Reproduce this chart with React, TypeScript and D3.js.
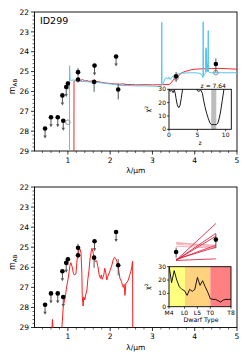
import React from 'react';
import * as d3 from 'd3';

const W = 249, H = 362;
const FONT = '"DejaVu Sans", sans-serif';

// ---------- data ----------
const xTicks = [1, 2, 3, 4, 5];
const yTicks = [22, 23, 24, 25, 26, 27, 28, 29];

// photometry (shared)
const photX = [0.46, 0.60, 0.76, 0.89, 0.87, 0.96, 1.00, 1.24, 1.24, 1.63, 1.62, 2.14, 2.19, 3.56, 4.50];
const photMag = [27.87, 27.3, 27.3, 27.48, 26.2, 25.78, 25.6, 25.03, 25.4, 24.7, 25.52, 24.24, 25.9, 25.24, 24.62];
const photUL = [1, 1, 1, 1, 1, 1, 0, 0, 0, 1, 0, 1, 0, 0, 0];
const photErrLo = [0, 0, 0, 0, 0, 0, 0.12, 0.2, 0.15, 0, 0.1, 0, 0.3, 0.22, 0.28];
const photErrHi = [0, 0, 0, 0, 0, 0, 0.3, 0.2, 0.15, 0, 0.5, 0, 0.5, 0.28, 0.42];

// model photometry (open grey circles, top panel)
const modelX = [1.0, 3.56, 4.5];
const modelMag = [27.55, 25.32, 25.05];

// galaxy template (blue) z = 7.64
const blueX = [0.21, 1.035, 1.04, 1.05, 1.08, 1.12, 1.2, 1.3, 1.4, 1.5, 1.6, 1.7, 1.8, 1.9, 2.0, 2.1, 2.2, 2.3, 2.4, 2.6, 2.8, 3.0, 3.1, 3.2, 3.215, 3.22, 3.225, 3.24, 3.27, 3.3, 3.33, 3.36, 3.39, 3.42, 3.45, 3.5, 3.6, 3.7, 3.8, 3.9, 4.0, 4.1, 4.15, 4.18, 4.195, 4.2, 4.205, 4.22, 4.25, 4.26, 4.265, 4.27, 4.275, 4.29, 4.3, 4.31, 4.32, 4.325, 4.33, 4.35, 4.4, 4.6, 4.8, 5.0];
const blueMag = [33, 33, 24.7, 25.4, 25.45, 25.42, 25.45, 25.5, 25.5, 25.52, 25.55, 25.55, 25.57, 25.6, 25.62, 25.65, 25.68, 25.7, 25.7, 25.72, 25.72, 25.73, 25.75, 25.75, 25.6, 22.52, 25.6, 25.65, 25.5, 25.35, 25.3, 25.38, 25.28, 25.4, 25.3, 25.2, 25.12, 25.08, 25.07, 25.06, 25.06, 25.08, 25.12, 25.22, 25.3, 22.49, 25.25, 25.15, 25.1, 25.05, 23.8, 25.0, 23.9, 25.0, 24.6, 25.0, 22.94, 25.0, 25.02, 25.05, 25.06, 25.06, 25.06, 25.06];

// second template (red, top panel)
const redX = [0.21, 1.14, 1.145, 1.16, 1.2, 1.25, 1.3, 1.35, 1.4, 1.45, 1.5, 1.55, 1.6, 1.7, 1.8, 1.9, 2.0, 2.1, 2.2, 2.3, 2.4, 2.5, 2.6, 2.8, 3.0, 3.2, 3.4, 3.45, 3.5, 3.55, 3.6, 3.7, 3.8, 3.9, 4.0, 4.2, 4.4, 4.6, 4.8, 5.0];
const redMag = [33, 33, 25.48, 25.45, 25.47, 25.42, 25.45, 25.4, 25.48, 25.45, 25.5, 25.47, 25.52, 25.5, 25.55, 25.58, 25.6, 25.62, 25.64, 25.62, 25.66, 25.65, 25.67, 25.66, 25.67, 25.66, 25.65, 25.55, 25.4, 25.35, 25.25, 25.05, 24.98, 24.92, 24.88, 24.86, 24.85, 24.84, 24.86, 24.88];

// brown dwarf template (bottom panel)
const bdX = [0.60, 0.62, 0.635, 0.65, 0.70, 0.80, 0.84, 0.87, 0.89, 0.92, 0.95, 0.97, 1.00, 1.03, 1.05, 1.07, 1.10, 1.13, 1.15, 1.19, 1.21, 1.23, 1.26, 1.29, 1.31, 1.33, 1.34, 1.36, 1.375, 1.40, 1.42, 1.45, 1.47, 1.50, 1.52, 1.55, 1.57, 1.60, 1.62, 1.65, 1.68, 1.71, 1.74, 1.77, 1.79, 1.81, 1.85, 1.87, 1.90, 1.92, 1.94, 1.97, 2.00, 2.04, 2.07, 2.10, 2.13, 2.16, 2.19, 2.23, 2.27, 2.29, 2.31, 2.33, 2.35, 2.37, 2.40, 2.43, 2.46, 2.49, 2.51, 2.53, 2.535];
const bdMag = [30, 29.2, 28.6, 29.3, 30, 30, 29.5, 28.63, 27.96, 27.63, 27.3, 26.97, 26.63, 26.22, 25.89, 25.77, 25.97, 26.3, 26.38, 26.33, 25.8, 25.39, 25.14, 25.1, 25.3, 26.3, 27.47, 27.93, 27.47, 27.63, 27.38, 27.13, 26.63, 26.14, 25.64, 25.22, 25.05, 25.3, 25.55, 25.72, 25.67, 25.97, 26.38, 26.55, 26.38, 26.6, 26.38, 26.05, 26.3, 26.63, 26.47, 26.33, 26.14, 25.89, 25.64, 25.5, 25.55, 25.72, 25.97, 26.55, 26.72, 26.9, 27.0, 26.85, 27.4, 26.8, 26.75, 26.63, 26.4, 26.2, 26.0, 25.7, 30];

// dwarf model colours (segments 3.56 -> 4.5 μm)
const dwarfLeft = [24.76, 24.85, 24.95, 24.8, 25.65, 25.65, 25.65, 25.62, 25.6, 25.66];
const dwarfRight = [24.95, 25.0, 25.05, 24.9, 23.82, 24.31, 24.45, 24.9, 25.0, 25.58];
const dwarfPale = [1, 1, 1, 1, 0, 0, 0, 0, 0, 0];

// photo-z chi2 curve
const zGrid = [0, 0.2, 0.45, 0.7, 0.95, 1.1, 1.25, 1.45, 1.65, 1.8, 1.95, 2.15, 2.4, 2.6, 4.8, 5.0, 5.3, 5.6, 5.9, 6.1, 6.35, 6.65, 6.95, 7.25, 7.5, 7.8, 8.1, 8.4, 8.6, 8.8, 9.1, 9.4, 9.7, 9.9, 11];
const zChi2 = [30, 28.5, 29.5, 27.5, 29.5, 27, 23, 18.5, 16.5, 16.5, 18, 23, 30, 34, 34, 29, 28.5, 29.5, 27, 22, 17, 12, 8, 4.5, 3.5, 3.5, 3.5, 3.7, 4.5, 7, 13, 21.5, 30, 34, 34];
const zBest = 7.64;
const zBand = [7.45, 8.35];
const zTicks = [0, 5, 10];
const chiTicks = [0, 10, 20, 30];

// dwarf type chi2
const dwarfTypes = ['M4', 'M5', 'M6', 'M7', 'M8', 'M9', 'L0', 'L1', 'L2', 'L3', 'L4', 'L5', 'L6', 'L7', 'L8', 'L9', 'T0', 'T1', 'T2', 'T3', 'T4', 'T5', 'T6', 'T7', 'T8'];
const dwarfChi2 = [31, 18, 27, 20, 15, 13, 12, 8.5, 13, 11.5, 13, 22, 16, 19.5, 15, 11, 6, 5.5, 5.5, 4.5, 3.5, 5, 5.5, 5.5, 5.5];
const dwarfTickLabels = ['M4', 'L0', 'L5', 'T0', 'T8'];
const dwarfSpans = [[0, 6.2, '#ffff80'], [6.2, 16, '#ffd280'], [16, 24, '#ff8080']] as [number, number, string][];

// ---------- scales ----------
const X0 = 34.5, X1 = 237;
const xs = d3.scaleLinear().domain([0.21, 5]).range([X0, X1]);
const yTop = d3.scaleLinear().domain([22, 29]).range([12, 151]);
const yBot = d3.scaleLinear().domain([22, 29]).range([187, 327.5]);

const zx = d3.scaleLinear().domain([0, 11]).range([169, 231.3]);
const zy = d3.scaleLinear().domain([0, 30]).range([129.3, 89.3]);
const dx = d3.scaleLinear().domain([0, 24]).range([169, 231]);
const dy = d3.scaleLinear().domain([0, 30]).range([306.7, 266.7]);

const BLUE = '#55c3f0';
const RED = '#f02828';

function MainAxes({ y, id }: { y: d3.ScaleLinear<number, number>; id: string }) {
  const [yb, yt] = y.range();
  const minorX = d3.range(0.4, 5.001, 0.2).filter(v => Math.abs(v - Math.round(v)) > 0.01);
  const minorY = d3.range(22, 29.001, 0.2).filter(v => Math.abs(v - Math.round(v)) > 0.01);
  const yMid = (yb + yt) / 2;
  return (
    <g>
      <rect x={X0} y={yb} width={X1 - X0} height={yt - yb} fill="none" stroke="#000" strokeWidth={0.9} />
      {xTicks.map(t => (
        <g key={'xt' + t}>
          <line x1={xs(t)} x2={xs(t)} y1={yt} y2={yt + 3.5} stroke="#000" strokeWidth={0.8} />
          <text x={xs(t)} y={yt + 11.5} fontSize={7.5} textAnchor="middle" fontFamily={FONT}>{t}</text>
        </g>
      ))}
      {minorX.map(t => (
        <line key={'xm' + t} x1={xs(t)} x2={xs(t)} y1={yt} y2={yt + 2} stroke="#000" strokeWidth={0.6} />
      ))}
      {yTicks.map(t => (
        <g key={'yt' + t}>
          <line x1={X0} x2={X0 - 3.5} y1={y(t)} y2={y(t)} stroke="#000" strokeWidth={0.8} />
          <text x={X0 - 5.5} y={y(t) + 2.7} fontSize={7.5} textAnchor="end" fontFamily={FONT}>{t}</text>
        </g>
      ))}
      {minorY.map(t => (
        <line key={'ym' + t} x1={X0} x2={X0 - 2} y1={y(t)} y2={y(t)} stroke="#000" strokeWidth={0.6} />
      ))}
      <text x={(X0 + X1) / 2} y={yt + 22} fontSize={7.5} textAnchor="middle" fontFamily={FONT}>λ/μm</text>
      <text transform={`translate(14.5,${yMid + 5}) rotate(-90)`} fontSize={8} textAnchor="middle" fontFamily={FONT}>
        m<tspan dy={2} fontSize={5.5}>AB</tspan>
      </text>
      <clipPath id={id}>
        <rect x={X0} y={yb} width={X1 - X0} height={yt - yb} />
      </clipPath>
    </g>
  );
}

function Photometry({ y }: { y: d3.ScaleLinear<number, number> }) {
  return (
    <g>
      {photX.map((xv, i) => {
        const px = xs(xv), py = y(photMag[i]);
        if (photUL[i]) {
          const tip = py + 10;
          return (
            <g key={'ul' + i}>
              <line x1={px} x2={px} y1={py} y2={tip - 2} stroke="#555" strokeWidth={1} />
              <path d={`M${px - 1.7},${tip - 3}L${px + 1.7},${tip - 3}L${px},${tip}Z`} fill="#555" />
            </g>
          );
        }
        return (
          <line key={'eb' + i} x1={px} x2={px} y1={y(photMag[i] - photErrLo[i])} y2={y(photMag[i] + photErrHi[i])} stroke="#555" strokeWidth={1} />
        );
      })}
      {photX.map((xv, i) => (
        <circle key={'pt' + i} cx={xs(xv)} cy={y(photMag[i])} r={2.3} fill="#000" />
      ))}
    </g>
  );
}

function TopInset() {
  const line = d3.line<number>().x((_, i) => zx(zGrid[i])).y(v => zy(v));
  const [l, r] = zx.range();
  const [b, t] = zy.range();
  return (
    <g fontFamily={FONT}>
      <rect x={l} y={t} width={r - l} height={b - t} fill="#fff" />
      <clipPath id="zclip"><rect x={l} y={t} width={r - l} height={b - t} /></clipPath>
      <rect x={zx(zBand[0])} y={t} width={zx(zBand[1]) - zx(zBand[0])} height={b - t} fill="#bdbdbd" />
      <path d={line(zChi2) || ''} fill="none" stroke="#000" strokeWidth={0.9} clipPath="url(#zclip)" />
      <rect x={l} y={t} width={r - l} height={b - t} fill="none" stroke="#000" strokeWidth={0.9} />
      {zTicks.map(v => (
        <g key={'zt' + v}>
          <line x1={zx(v)} x2={zx(v)} y1={b} y2={b + 2} stroke="#000" strokeWidth={0.7} />
          <text x={zx(v)} y={b + 7.8} fontSize={6} textAnchor="middle">{v}</text>
        </g>
      ))}
      {chiTicks.map(v => (
        <g key={'ct' + v}>
          <line x1={l} x2={l - 2} y1={zy(v)} y2={zy(v)} stroke="#000" strokeWidth={0.7} />
          <text x={l - 3} y={zy(v) + 2.1} fontSize={6} textAnchor="end">{v}</text>
        </g>
      ))}
      <text x={(l + r) / 2} y={b + 16} fontSize={6} textAnchor="middle">z</text>
      <text transform={`translate(150,${(b + t) / 2}) rotate(-90)`} fontSize={6.5} textAnchor="middle">
        χ<tspan dy={-2.5} fontSize={4.5}>2</tspan>
      </text>
      <text x={zx(zBest) + 1} y={t - 1.5} fontSize={6} textAnchor="middle">z = {zBest.toFixed(2)}</text>
    </g>
  );
}

function BottomInset() {
  const line = d3.line<number>().x((_, i) => dx(i)).y(v => dy(v));
  const [l, r] = dx.range();
  const [b, t] = dy.range();
  return (
    <g fontFamily={FONT}>
      <rect x={l} y={t} width={r - l} height={b - t} fill="#fff" />
      <clipPath id="dclip"><rect x={l} y={t} width={r - l} height={b - t} /></clipPath>
      {dwarfSpans.map(([a, c, col], i) => (
        <rect key={'sp' + i} x={dx(a)} y={t} width={dx(c) - dx(a)} height={b - t} fill={col} />
      ))}
      <path d={line(dwarfChi2) || ''} fill="none" stroke="#000" strokeWidth={0.9} clipPath="url(#dclip)" />
      <rect x={l} y={t} width={r - l} height={b - t} fill="none" stroke="#000" strokeWidth={0.9} />
      {dwarfTickLabels.map(lab => {
        const i = dwarfTypes.indexOf(lab);
        return (
          <g key={'dt' + lab}>
            <line x1={dx(i)} x2={dx(i)} y1={b} y2={b + 2} stroke="#000" strokeWidth={0.7} />
            <text x={dx(i)} y={b + 8.2} fontSize={6} textAnchor="middle">{lab}</text>
          </g>
        );
      })}
      {chiTicks.map(v => (
        <g key={'dc' + v}>
          <line x1={l} x2={l - 2} y1={dy(v)} y2={dy(v)} stroke="#000" strokeWidth={0.7} />
          <text x={l - 3} y={dy(v) + 2.1} fontSize={6} textAnchor="end">{v}</text>
        </g>
      ))}
      <text x={(l + r) / 2 + 1} y={b + 15} fontSize={6.3} textAnchor="middle">Dwarf Type</text>
      <text transform={`translate(150,${(b + t) / 2}) rotate(-90)`} fontSize={6.5} textAnchor="middle">
        χ<tspan dy={-2.5} fontSize={4.5}>2</tspan>
      </text>
    </g>
  );
}

export default function App() {
  const lineTop = (xv: number[]) => d3.line<number>().x((_, i) => xs(xv[i])).y(v => yTop(v));
  const lineBot = (xv: number[]) => d3.line<number>().x((_, i) => xs(xv[i])).y(v => yBot(v));
  return (
    <svg width={W} height={H} style={{ position: 'absolute', left: 0, top: 0, background: '#fff' }} fontFamily={FONT}>
      {/* top panel */}
      <MainAxes y={yTop} id="clipTop" />
      <g clipPath="url(#clipTop)">
        <path d={lineTop(redX)(redMag) || ''} fill="none" stroke={RED} strokeWidth={1} />
        <path d={lineTop(blueX)(blueMag) || ''} fill="none" stroke={BLUE} strokeWidth={1} />
        {modelX.map((xv, i) => (
          <circle key={'m' + i} cx={xs(xv)} cy={yTop(modelMag[i])} r={2.3} fill="none" stroke="#888" strokeWidth={0.9} />
        ))}
        <Photometry y={yTop} />
      </g>
      <text x={40} y={23.5} fontSize={9.5} fontFamily={FONT}>ID299</text>
      <TopInset />

      {/* bottom panel */}
      <MainAxes y={yBot} id="clipBot" />
      <g clipPath="url(#clipBot)">
        <path d={lineBot(bdX)(bdMag) || ''} fill="none" stroke="#ff1e1e" strokeWidth={1} />
        {dwarfLeft.map((v, i) => (
          <line key={'dw' + i} x1={xs(3.56)} x2={xs(4.5)} y1={yBot(v)} y2={yBot(dwarfRight[i])}
            stroke={dwarfPale[i] ? '#f4a3ab' : '#dc2040'} strokeOpacity={dwarfPale[i] ? 0.85 : 0.85} strokeWidth={1} />
        ))}
        <Photometry y={yBot} />
      </g>
      <BottomInset />
    </svg>
  );
}
